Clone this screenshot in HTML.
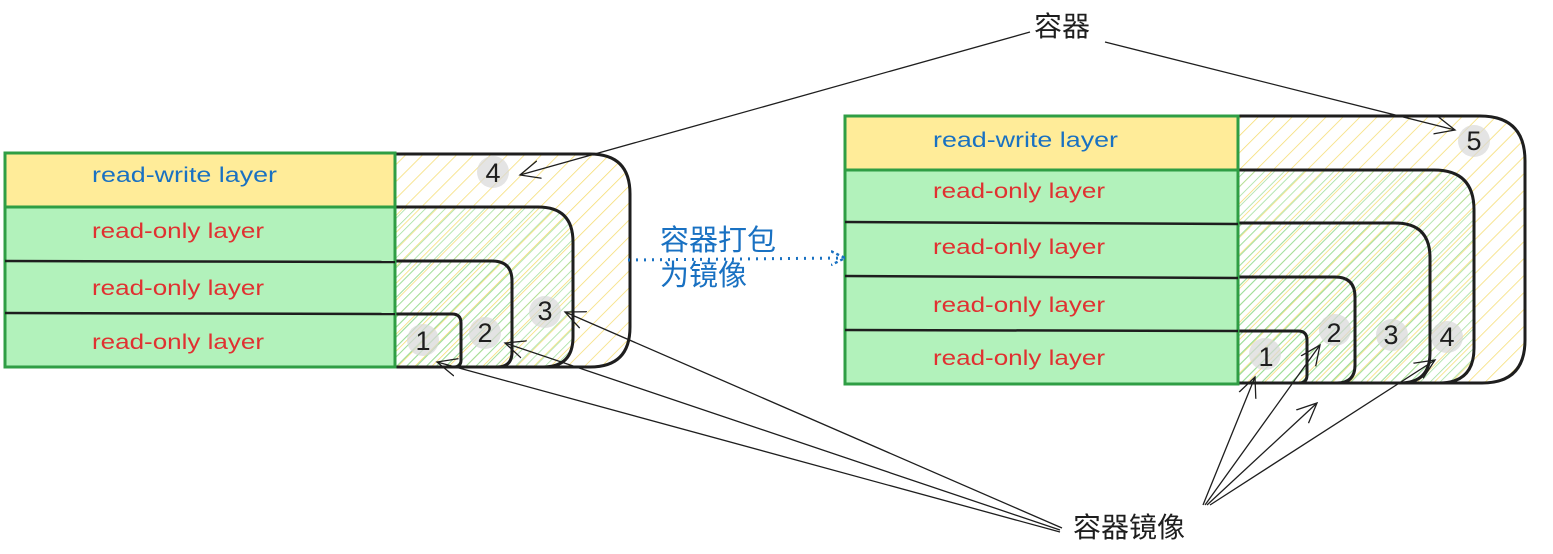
<!DOCTYPE html>
<html><head><meta charset="utf-8"><style>
html,body{margin:0;padding:0;background:#fff;width:1553px;height:554px;overflow:hidden}
svg{display:block}
.t{font-family:"Liberation Sans","Noto Sans CJK SC",sans-serif;font-size:21px}
.c{font-family:"Liberation Sans","Noto Sans CJK SC",sans-serif;font-size:28px;fill:#1e1e1e}
.n{font-family:"Liberation Sans",sans-serif;font-size:27px;fill:#1e1e1e;text-anchor:middle}
</style></head><body>
<svg width="1553" height="554" viewBox="0 0 1553 554" xmlns="http://www.w3.org/2000/svg">
<defs>
<pattern id="hy" patternUnits="userSpaceOnUse" width="12" height="12" patternTransform="rotate(45)"><line x1="0" y1="0" x2="0" y2="12" stroke="#f5dc6e" stroke-width="1.5"/></pattern>
<pattern id="hg" patternUnits="userSpaceOnUse" width="7" height="7" patternTransform="rotate(45)"><line x1="0" y1="0" x2="0" y2="7" stroke="#9ede9a" stroke-width="1.5"/></pattern>
<marker id="ar" markerWidth="24" markerHeight="24" refX="20" refY="12" orient="auto" markerUnits="userSpaceOnUse"><path d="M0,3 L20,12 L0,21" fill="none" stroke="#1e1e1e" stroke-width="1.3"/></marker>
<marker id="ab" markerWidth="16" markerHeight="16" refX="14" refY="8" orient="auto" markerUnits="userSpaceOnUse"><path d="M0,1 L14,8 L0,15" fill="none" stroke="#1971c2" stroke-width="2.5" stroke-dasharray="3,3"/></marker>
</defs>
<g stroke="#1e1e1e" stroke-width="3">
<path d="M395,154 H590 Q630,154 630,194 V327 Q630,367 590,367 H395 Z" fill="url(#hy)"/>
<path d="M395,207 H538 Q573,207 573,242 V337 Q573,367 543,367 H395 Z" fill="url(#hg)"/>
<path d="M395,261 H492 Q512,261 512,281 V352 Q512,367 497,367 H395 Z" fill="url(#hg)"/>
<path d="M395,314 H452 Q461,314 461,323 V360 Q461,367 454,367 H395 Z" fill="url(#hg)"/>
<path d="M1238,116 H1480 Q1525,116 1525,161 V340 Q1525,383 1482,383 H1238 Z" fill="url(#hy)"/>
<path d="M1238,170 H1434 Q1474,170 1474,210 V348 Q1474,383 1439,383 H1238 Z" fill="url(#hg)"/>
<path d="M1238,223 H1395 Q1430,223 1430,258 V353 Q1430,383 1400,383 H1238 Z" fill="url(#hg)"/>
<path d="M1238,277 H1335 Q1355,277 1355,297 V365 Q1355,383 1337,383 H1238 Z" fill="url(#hg)"/>
<path d="M1238,331 H1298 Q1307,331 1307,340 V375 Q1307,383 1299,383 H1238 Z" fill="url(#hg)"/>
</g>
<g stroke="#2f9e44" stroke-width="3">
<rect x="5" y="153" width="390" height="54" fill="#ffec99"/>
<rect x="5" y="207" width="390" height="160" fill="#b2f2bb"/>
<rect x="845" y="116" width="393" height="54" fill="#ffec99"/>
<rect x="845" y="170" width="393" height="214" fill="#b2f2bb"/>
</g>
<g stroke="#1e1e1e" stroke-width="2.5">
<line x1="5" y1="261" x2="395" y2="262"/><line x1="5" y1="313" x2="395" y2="314"/>
<line x1="845" y1="222" x2="1238" y2="224"/><line x1="845" y1="276" x2="1238" y2="278"/><line x1="845" y1="330" x2="1238" y2="331"/>
</g>
<g class="t">
<text x="92" y="182" fill="#1971c2" textLength="185" lengthAdjust="spacingAndGlyphs">read-write layer</text>
<text x="92" y="238" fill="#e03131" textLength="172" lengthAdjust="spacingAndGlyphs">read-only layer</text>
<text x="92" y="295" fill="#e03131" textLength="172" lengthAdjust="spacingAndGlyphs">read-only layer</text>
<text x="92" y="349" fill="#e03131" textLength="172" lengthAdjust="spacingAndGlyphs">read-only layer</text>
<text x="933" y="147" fill="#1971c2" textLength="185" lengthAdjust="spacingAndGlyphs">read-write layer</text>
<text x="933" y="198" fill="#e03131" textLength="172" lengthAdjust="spacingAndGlyphs">read-only layer</text>
<text x="933" y="254" fill="#e03131" textLength="172" lengthAdjust="spacingAndGlyphs">read-only layer</text>
<text x="933" y="312" fill="#e03131" textLength="172" lengthAdjust="spacingAndGlyphs">read-only layer</text>
<text x="933" y="365" fill="#e03131" textLength="172" lengthAdjust="spacingAndGlyphs">read-only layer</text>
</g>
<g fill="#d8d8d8" opacity="0.7">
<circle cx="493" cy="172" r="16"/><circle cx="545" cy="312" r="16"/><circle cx="485" cy="333" r="16"/><circle cx="423" cy="340" r="16"/>
<circle cx="1474" cy="141" r="16"/><circle cx="1447" cy="337" r="16"/><circle cx="1392" cy="335" r="16"/><circle cx="1335" cy="330" r="16"/><circle cx="1265" cy="354" r="16"/>
</g>
<g class="n">
<text x="493" y="182">4</text><text x="545" y="320">3</text><text x="485" y="342">2</text><text x="423" y="350">1</text>
<text x="1474" y="150">5</text><text x="1447" y="346">4</text><text x="1391" y="344">3</text><text x="1334" y="342">2</text><text x="1266" y="366">1</text>
</g>
<g stroke="#1e1e1e" stroke-width="1.3" fill="none" marker-end="url(#ar)">
<line x1="1030" y1="32" x2="520" y2="175"/>
<line x1="1105" y1="42" x2="1455" y2="130"/>
<line x1="1060" y1="532" x2="437" y2="362"/>
<line x1="1060" y1="530" x2="505" y2="343"/>
<line x1="1062" y1="528" x2="565" y2="312"/>
<line x1="1203" y1="505" x2="1255" y2="377"/>
<line x1="1205" y1="505" x2="1320" y2="345"/>
<line x1="1207" y1="505" x2="1317" y2="403"/>
<line x1="1210" y1="505" x2="1435" y2="360"/>
</g>
<line x1="628" y1="260" x2="845" y2="258" stroke="#1971c2" stroke-width="3" stroke-dasharray="2,6" marker-end="url(#ab)"/>
<g class="c" style="fill:#1971c2;font-size:29px">
<text x="660" y="250">容器打包</text>
<text x="660" y="285">为镜像</text>
</g>
<text class="c" x="1034" y="36">容器</text>
<text class="c" x="1073" y="537">容器镜像</text>
</svg>
</body></html>
